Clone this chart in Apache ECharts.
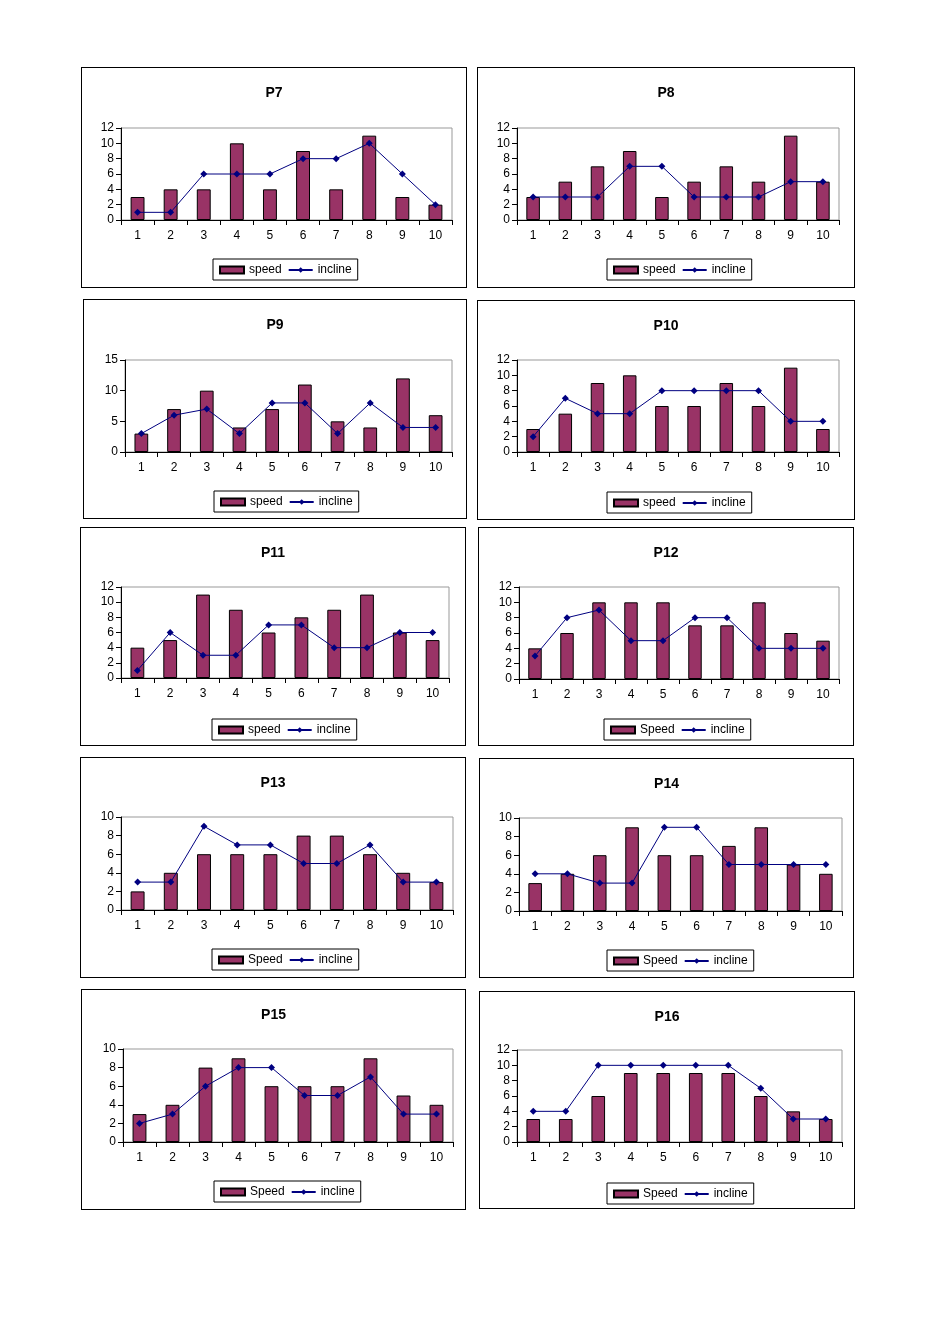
<html>
<head>
  <meta charset='utf-8' />
  <title>P7 - P16</title>
  <script src="https://cdn.jsdelivr.net/npm/echarts@6/dist/echarts.min.js"></script>
  <style>
    body { margin: 0; background: #fff; }
    .box { position: absolute; border: 1px solid #000; box-sizing: border-box; background: #fff; }
  </style>
</head>
<body>
  <div id="page" style="position: relative; width: 933px; height: 1324px;"></div>
  <script type="text/javascript">
    var categories = ['1', '2', '3', '4', '5', '6', '7', '8', '9', '10'];
    var titles = ['P7', 'P8', 'P9', 'P10', 'P11', 'P12', 'P13', 'P14', 'P15', 'P16'];
    var speedNames = ['speed', 'speed', 'speed', 'speed', 'speed', 'Speed', 'Speed', 'Speed', 'Speed', 'Speed'];
    var yMax = [12, 12, 15, 12, 12, 12, 10, 10, 10, 12];
    var yStep = [2, 2, 5, 2, 2, 2, 2, 2, 2, 2];

    var speedP7  = [3, 4, 4, 10, 4, 9, 4, 11, 3, 2];
    var speedP8  = [3, 5, 7, 9, 3, 5, 7, 5, 11, 5];
    var speedP9  = [3, 7, 10, 4, 7, 11, 5, 4, 12, 6];
    var speedP10 = [3, 5, 9, 10, 6, 6, 9, 6, 11, 3];
    var speedP11 = [4, 5, 11, 9, 6, 8, 9, 11, 6, 5];
    var speedP12 = [4, 6, 10, 10, 10, 7, 7, 10, 6, 5];
    var speedP13 = [2, 4, 6, 6, 6, 8, 8, 6, 4, 3];
    var speedP14 = [3, 4, 6, 9, 6, 6, 7, 9, 5, 4];
    var speedP15 = [3, 4, 8, 9, 6, 6, 6, 9, 5, 4];
    var speedP16 = [3, 3, 6, 9, 9, 9, 9, 6, 4, 3];

    var inclineP7  = [1, 1, 6, 6, 6, 8, 8, 10, 6, 2];
    var inclineP8  = [3, 3, 3, 7, 7, 3, 3, 3, 5, 5];
    var inclineP9  = [3, 6, 7, 3, 8, 8, 3, 8, 4, 4];
    var inclineP10 = [2, 7, 5, 5, 8, 8, 8, 8, 4, 4];
    var inclineP11 = [1, 6, 3, 3, 7, 7, 4, 4, 6, 6];
    var inclineP12 = [3, 8, 9, 5, 5, 8, 8, 4, 4, 4];
    var inclineP13 = [3, 3, 9, 7, 7, 5, 5, 7, 3, 3];
    var inclineP14 = [4, 4, 3, 3, 9, 9, 5, 5, 5, 5];
    var inclineP15 = [2, 3, 6, 8, 8, 5, 5, 7, 3, 3];
    var inclineP16 = [4, 4, 10, 10, 10, 10, 10, 7, 3, 3];

    var speeds = [speedP7, speedP8, speedP9, speedP10, speedP11, speedP12, speedP13, speedP14, speedP15, speedP16];
    var inclines = [inclineP7, inclineP8, inclineP9, inclineP10, inclineP11, inclineP12, inclineP13, inclineP14, inclineP15, inclineP16];

    // layout: box [x, y, w, h] on the page, plot [left, top, width, height] inside the box
    var boxes = [
      [81, 67, 386, 221], [477, 67, 378, 221],
      [83, 299, 384, 220], [477, 300, 378, 220],
      [80, 527, 386, 219], [478, 527, 376, 219],
      [80, 757, 386, 221], [479, 758, 375, 220],
      [81, 989, 385, 221], [479, 991, 376, 218]
    ];
    var plots = [
      [39, 60, 331, 92], [39, 60, 322, 92],
      [41, 60, 327, 92], [39, 59, 322, 92],
      [40, 59, 328, 91], [40, 59, 320, 92],
      [40, 59, 332, 93], [39, 59, 323, 93],
      [41, 59, 330, 93], [37, 58, 325, 92]
    ];
    var legendLeft = [131, 129, 130, 129, 131, 125, 131, 127, 132, 127];

    var FONT = "'Liberation Sans', Arial, sans-serif";
    var page = document.getElementById('page');

    function buildChart(i) {
      var b = boxes[i], p = plots[i];
      var div = document.createElement('div');
      div.className = 'box';
      div.style.left = b[0] + 'px'; div.style.top = b[1] + 'px';
      div.style.width = b[2] + 'px'; div.style.height = b[3] + 'px';
      page.appendChild(div);
      var chart = echarts.init(div, null, {renderer: 'canvas'});
      var option = {
        animation: false,
        backgroundColor: '#fff',
        textStyle: {fontFamily: FONT},
        title: {
          text: titles[i], left: 'center', top: 13,
          textStyle: {fontSize: 14, fontWeight: 'bold', color: '#000', fontFamily: FONT}
        },
        legend: {
          left: legendLeft[i], top: 191,
          orient: 'horizontal',
          borderColor: '#000', borderWidth: 1, borderRadius: 0,
          padding: [5, 6, 4, 6],
          itemWidth: 24, itemHeight: 7, itemGap: 6,
          textStyle: {fontSize: 12, color: '#000', fontFamily: FONT},
          data: [{name: speedNames[i], icon: 'rect'}, {name: 'incline'}]
        },
        grid: {
          left: p[0], top: p[1], width: p[2], height: p[3],
          show: true, borderColor: '#999', borderWidth: 1, backgroundColor: '#fff'
        },
        xAxis: {
          type: 'category', data: categories, boundaryGap: true,
          axisLine: {lineStyle: {color: '#000', width: 1}},
          axisTick: {show: true, length: 5, lineStyle: {color: '#000'}},
          axisLabel: {color: '#000', fontSize: 12, margin: 10, fontFamily: FONT},
          splitLine: {show: false}
        },
        yAxis: {
          type: 'value', min: 0, max: yMax[i], interval: yStep[i],
          axisLine: {show: true, lineStyle: {color: '#000', width: 1}},
          axisTick: {show: true, length: 5, lineStyle: {color: '#000'}},
          axisLabel: {color: '#000', fontSize: 12, margin: 7, fontFamily: FONT},
          splitLine: {show: false}
        },
        series: [
          {
            name: speedNames[i], type: 'bar', data: speeds[i],
            barCategoryGap: '58%',
            itemStyle: {color: '#993366', borderColor: '#000', borderWidth: 1}
          },
          {
            name: 'incline', type: 'line', data: inclines[i],
            symbol: 'diamond', symbolSize: 7, showSymbol: true,
            lineStyle: {color: '#000080', width: 1},
            itemStyle: {color: '#000080', borderWidth: 0}
          }
        ]
      };
      chart.setOption(option);
    }

    for (var i = 0; i < titles.length; i++) buildChart(i);
  </script>
</body>
</html>
